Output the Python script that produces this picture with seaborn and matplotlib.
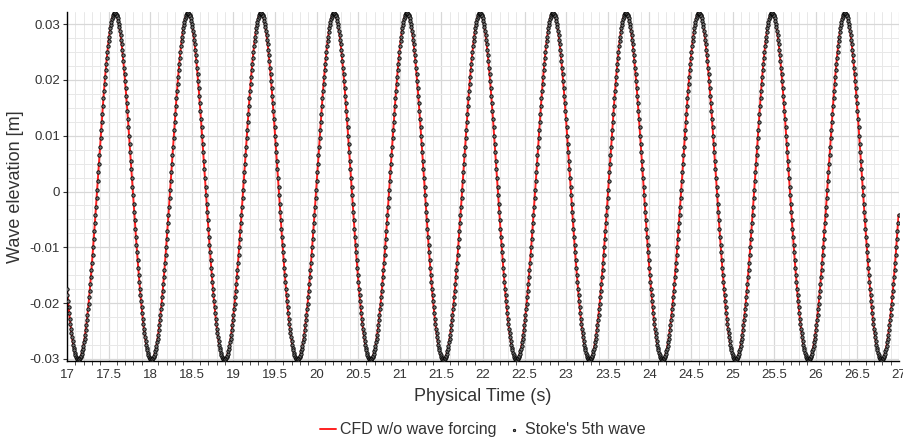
import numpy as np
import pandas as pd
import matplotlib
matplotlib.use("Agg")
import matplotlib.pyplot as plt
import matplotlib.ticker as mticker
import seaborn as sns

# values
crest_times = [17.577, 18.454, 19.33, 20.21, 21.085, 21.965, 22.84, 23.72, 24.595, 25.475, 26.351]
crest_height = 0.0320     # m
trough_depth = -0.0302    # m
points_per_period = 128
t_start, t_end = 17.0, 27.0

x_ticks = [17, 17.5, 18, 18.5, 19, 19.5, 20, 20.5, 21, 21.5, 22, 22.5, 23, 23.5,
           24, 24.5, 25, 25.5, 26, 26.5, 27]
y_ticks = [-0.03, -0.02, -0.01, 0, 0.01, 0.02, 0.03]

# wave profile (second-order Stokes shape) fitted to the read crests/troughs
period = np.mean(np.diff(crest_times))
a1 = (crest_height - trough_depth) / 2
a2 = (crest_height + trough_depth) / 2
t = np.arange(t_start, t_end + 1e-9, period / points_per_period)
theta = 2 * np.pi * (t - crest_times[0]) / period
eta = a1 * np.cos(theta) + a2 * np.cos(2 * theta)

df = pd.DataFrame({"time": t, "eta": eta})

sns.set_style("white")
plt.rcParams["font.family"] = ["Liberation Sans", "DejaVu Sans"]

fig = plt.figure(figsize=(9.04, 4.43), dpi=100)
ax = fig.add_axes([0.074, 0.185, 0.9205, 0.788])

sns.lineplot(data=df, x="time", y="eta", color="#ff2020", linewidth=1.4,
             label="CFD w/o wave forcing", ax=ax, zorder=2)
sns.scatterplot(data=df, x="time", y="eta", marker="o", s=6, color="#777777",
                edgecolor="black", linewidth=0.6, label="Stoke's 5th wave",
                ax=ax, zorder=3)

ax.set_xlim(t_start, t_end)
ax.set_ylim(-0.0304, 0.0322)
ax.set_xticks(x_ticks)
ax.set_yticks(y_ticks)
ax.xaxis.set_minor_locator(mticker.MultipleLocator(0.1))
ax.yaxis.set_minor_locator(mticker.MultipleLocator(0.0025))
fmt = mticker.FuncFormatter(lambda v, p: "%g" % round(v, 4))
ax.xaxis.set_major_formatter(fmt)
ax.yaxis.set_major_formatter(fmt)

ax.grid(which="major", color="#d8d8d8", linewidth=0.9)
ax.grid(which="minor", color="#e8e8e8", linewidth=0.7)
ax.set_axisbelow(True)

for side in ["top", "right"]:
    ax.spines[side].set_visible(False)
for side in ["left", "bottom"]:
    ax.spines[side].set_color("black")
    ax.spines[side].set_linewidth(1.0)

ax.tick_params(axis="x", which="major", direction="out", length=4, width=0.8,
               labelsize=9.5, colors="#333333", pad=2)
ax.tick_params(axis="x", which="minor", direction="out", length=3, width=0.6,
               bottom=True, color="#333333")
ax.tick_params(axis="y", which="major", direction="out", length=3, width=0.8,
               left=True, labelsize=9.5, colors="#333333", pad=2)
ax.tick_params(axis="y", which="minor", left=False)

ax.set_xlabel("Physical Time (s)", fontsize=13, color="#333333", labelpad=5)
ax.set_ylabel("Wave elevation [m]", fontsize=13, color="#333333", labelpad=4)

leg = ax.legend(loc="center", bbox_to_anchor=(0.5, -0.197), ncol=2,
                frameon=False, fontsize=11.5, handlelength=1.0,
                handletextpad=0.2, columnspacing=0.6, markerscale=0.7,
                borderpad=0.1)
for txt in leg.get_texts():
    txt.set_color("#333333")

fig.savefig("out.png", dpi=100)
